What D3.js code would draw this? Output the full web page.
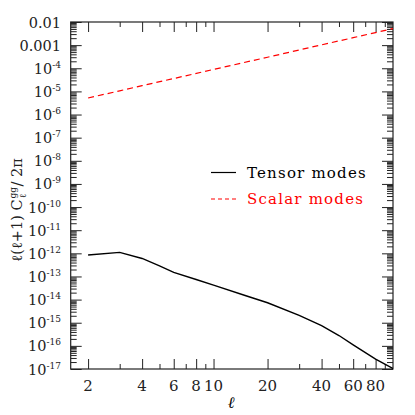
<!DOCTYPE html>
<html>
<head>
<meta charset="utf-8">
<script src="https://cdn.jsdelivr.net/npm/d3@7"></script>
<style>
  body { margin: 0; background: #fff; }
  text { font-family: "DejaVu Serif", serif; }
</style>
</head>
<body>
<svg id="chart" width="415" height="415"></svg>
<script>
// values
const tensorL = [2, 3, 4, 5, 6, 8, 10, 15, 20, 30, 40, 50, 60, 80, 100];
const tensorC = [8.5e-13, 1.1e-12, 6e-13, 2.9e-13, 1.5e-13, 7.4e-14, 4.2e-14, 1.5e-14,
                 7.3e-15, 2.1e-15, 7.5e-16, 2.8e-16, 1.1e-16, 2.7e-17, 1.05e-17];
const scalarL = [2, 3, 4, 6, 10, 20, 40, 60, 100];
const scalarC = [5.2e-6, 1.06e-5, 1.77e-5, 3.6e-5, 8.9e-5, 3.0e-4, 1.03e-3, 2.1e-3, 5.2e-3];

const xMajor = [2, 4, 6, 8, 10, 20, 40, 60, 80];
const xMinor = [3, 5, 7, 9, 30, 50, 70, 90];
const yExp = d3.range(-17, -1);   // -17 .. -2
const legendNames = ["Tensor modes", "Scalar modes"];

const mLeft = 70.7, mRight = 393, mTop = 22, mBottom = 369;

const svg = d3.select("#chart");
const x = d3.scaleLog().domain([1.6, 100]).range([mLeft, mRight]);
const y = d3.scaleLog().domain([1e-17, 1e-2]).range([mBottom, mTop]);

const yMajor = yExp.map(e => Math.pow(10, e));
const yMinor = [];
yExp.slice(0, -1).forEach(e => {
    for (let k = 2; k <= 9; k++) yMinor.push(k * Math.pow(10, e));
});

function tickAxis(axis, vals, size, tx, ty) {
    const g = svg.append("g")
        .attr("transform", `translate(${tx},${ty})`)
        .call(axis.tickValues(vals).tickSize(size).tickFormat(""));
    g.select(".domain").remove();
    g.selectAll("line").attr("stroke", "#222").attr("stroke-width", 1);
}

tickAxis(d3.axisBottom(x), xMajor, -10, 0, mBottom);
tickAxis(d3.axisBottom(x), xMinor, -5, 0, mBottom);
tickAxis(d3.axisTop(x), xMajor, -10, 0, mTop);
tickAxis(d3.axisTop(x), xMinor, -5, 0, mTop);
tickAxis(d3.axisLeft(y), yMajor, -11, mLeft, 0);
tickAxis(d3.axisLeft(y), yMinor, -6, mLeft, 0);
tickAxis(d3.axisRight(y), yMajor, -11, mRight, 0);
tickAxis(d3.axisRight(y), yMinor, -6, mRight, 0);

svg.append("rect")
    .attr("x", mLeft).attr("y", mTop)
    .attr("width", mRight - mLeft).attr("height", mBottom - mTop)
    .attr("fill", "none").attr("stroke", "#222").attr("stroke-width", 1.2);

// x tick labels
svg.append("g").selectAll("text")
    .data(xMajor).join("text")
    .attr("x", d => x(d)).attr("y", 391)
    .attr("text-anchor", "middle")
    .attr("font-size", 15)
    .attr("fill", "#222")
    .text(d => d);

// y tick labels
const yl = svg.append("g").selectAll("text")
    .data(yExp).join("text")
    .attr("x", 61).attr("y", e => y(Math.pow(10, e)) + 5.5)
    .attr("text-anchor", "end")
    .attr("font-size", 14.5)
    .attr("fill", "#222");
yl.each(function (e) {
    const t = d3.select(this);
    if (e === -2) t.text("0.01");
    else if (e === -3) t.text("0.001");
    else {
        t.append("tspan").text("10");
        t.append("tspan").attr("dy", -6).attr("font-size", 9).text("-" + (-e));
    }
});

// axis titles
svg.append("text")
    .attr("x", 231).attr("y", 408)
    .attr("text-anchor", "middle")
    .attr("font-size", 16).attr("font-style", "italic")
    .text("\u2113");

const yt = svg.append("text")
    .attr("transform", "translate(22,210) rotate(-90)")
    .attr("text-anchor", "middle")
    .attr("font-size", 14.5)
    .attr("fill", "#222");
yt.append("tspan").text("\u2113(\u2113+1) C");
yt.append("tspan").attr("font-size", 9).attr("dy", -6).attr("dx", 1).text("gg");
yt.append("tspan").attr("font-size", 9).attr("dy", 10).attr("dx", -11).text("\u2113");
yt.append("tspan").attr("dy", -4).attr("dx", 7).text("/ 2\u03c0");

// curves
svg.append("clipPath").attr("id", "clip")
    .append("rect").attr("x", mLeft).attr("y", mTop)
    .attr("width", mRight - mLeft).attr("height", mBottom - mTop);

const line = d3.line().x(d => x(d[0])).y(d => y(d[1]));

svg.append("path")
    .datum(d3.zip(tensorL, tensorC))
    .attr("clip-path", "url(#clip)")
    .attr("d", line)
    .attr("fill", "none").attr("stroke", "#000").attr("stroke-width", 1.4);

svg.append("path")
    .datum(d3.zip(scalarL, scalarC))
    .attr("clip-path", "url(#clip)")
    .attr("d", line)
    .attr("fill", "none").attr("stroke", "#f00").attr("stroke-width", 1.2)
    .attr("stroke-dasharray", "6,4");

// legend
const legColors = ["#000", "#f00"];
const legDash = [null, "4,3"];
const leg = svg.append("g").selectAll("g")
    .data(legendNames).join("g")
    .attr("transform", (d, i) => `translate(211,${172.5 + i * 26.5})`);
leg.append("line")
    .attr("x1", 0).attr("x2", 25)
    .attr("stroke", (d, i) => legColors[i])
    .attr("stroke-width", 1.2)
    .attr("stroke-dasharray", (d, i) => legDash[i]);
leg.append("text")
    .attr("x", 36).attr("y", 5)
    .attr("font-size", 15)
    .attr("letter-spacing", 1.2)
    .attr("fill", (d, i) => legColors[i])
    .text(d => d);
</script>
</body>
</html>
